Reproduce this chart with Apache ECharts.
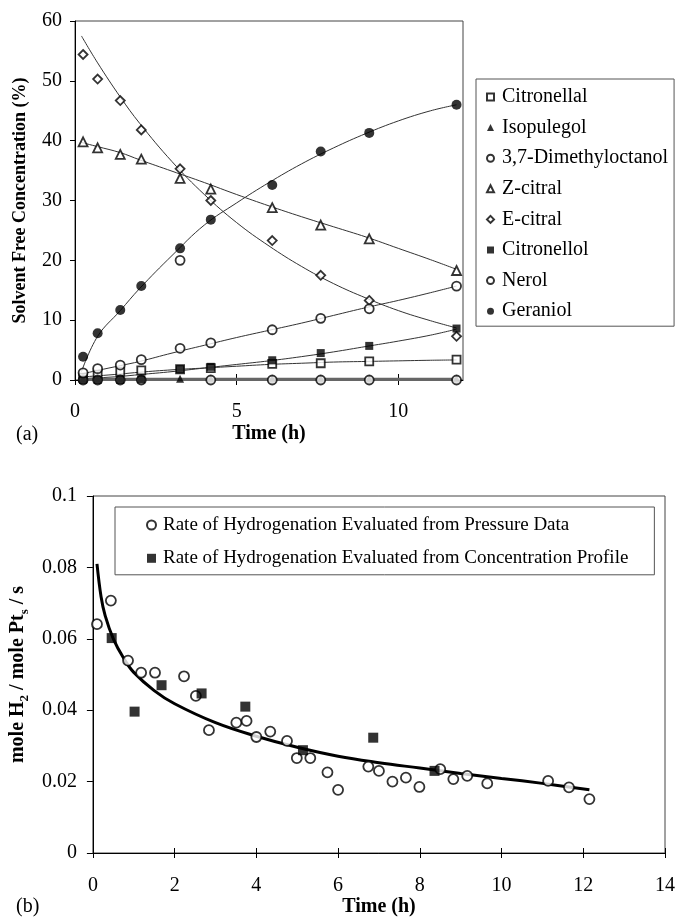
<!DOCTYPE html>
<html>
<head>
<meta charset="utf-8">
<script src="https://cdn.jsdelivr.net/npm/echarts@6/dist/echarts.min.js"></script>
<style>
  html, body { margin: 0; padding: 0; background: #fff; }
  #chart { width: 678px; height: 918px; }
</style>
</head>
<body>
<div id="chart"></div>
<script>
// ---- (a) concentration profiles ----
const sampleTime = [0.25, 0.7, 1.4, 2.05, 3.25, 4.2, 6.1, 7.6, 9.1, 11.8];
const citronellal = [0.4, 0.9, 1.4, 1.6, 1.8, 2.0, 2.7, 2.8, 3.1, 3.4];
const isopulegol = [0.2, 0.2, 0.2, 0.2, 0.2, 0.2, 0.2, 0.2, 0.2, 0.2];
const dimethyloctanol = [0, 0, 0, 0, 20, 0, 0, 0, 0, 0];
const zCitral = [39.8, 38.8, 37.7, 36.9, 33.7, 31.9, 28.8, 25.9, 23.6, 18.3];
const eCitral = [54.4, 50.3, 46.7, 41.8, 35.3, 30.0, 23.3, 17.5, 13.3, 7.3];
const citronellol = [0, 0, 0, 0.1, 1.8, 2.2, 3.3, 4.5, 5.7, 8.6];
const nerol = [1.2, 1.9, 2.5, 3.4, 5.3, 6.2, 8.4, 10.3, 11.9, 15.7];
const geraniol = [3.9, 7.8, 11.7, 15.7, 22.0, 26.8, 32.6, 38.2, 41.3, 46.0];

// trend curves drawn through each profile
const trendTime = [0.2, 0.7, 1.4, 2, 3, 4, 5, 6, 7, 8, 9, 10, 11, 11.8];
const citronellalTrend = [0.5, 0.7, 1.0, 1.3, 1.7, 2.0, 2.3, 2.6, 2.8, 3.0, 3.1, 3.2, 3.3, 3.35];
const zCitralTrend = [39.7, 39.0, 38.0, 36.8, 34.9, 33.0, 31.0, 29.1, 27.3, 25.6, 23.9, 22.0, 20.1, 18.5];
const eCitralTrend = [57.5, 53.0, 47.3, 42.9, 36.5, 31.0, 26.3, 22.4, 19.0, 16.1, 13.7, 11.6, 9.9, 8.7];
const citronellolTrend = [0.2, 0.35, 0.6, 0.9, 1.4, 2.0, 2.6, 3.2, 3.9, 4.7, 5.6, 6.5, 7.5, 8.5];
const nerolTrend = [1.0, 1.6, 2.4, 3.1, 4.5, 5.8, 7.1, 8.3, 9.5, 10.8, 12.1, 13.3, 14.6, 15.7];
const geraniolTrend = [1.4, 7.3, 11.6, 15.3, 20.8, 25.9, 29.6, 33.0, 36.1, 38.8, 41.2, 43.3, 45.0, 46.0];
const baseTime = [0.2, 11.8];
const isopulegolTrend = [0.2, 0.2];
const dimethyloctanolTrend = [0, 0];

const topXTicks = [0, 5, 10];

// ---- (b) hydrogenation rate ----
const pressureTime = [0.1, 0.44, 0.86, 1.18, 1.52, 2.23, 2.52, 2.84, 3.51, 3.76, 4.0, 4.34, 4.75, 4.99, 5.32, 5.74, 6.0, 6.74, 7.0, 7.33, 7.66, 7.99, 8.5, 8.82, 9.16, 9.65, 11.14, 11.65, 12.15];
const pressureRate = [0.0641, 0.0707, 0.0539, 0.0505, 0.0505, 0.0495, 0.0440, 0.0344, 0.0365, 0.0370, 0.0325, 0.0340, 0.0314, 0.0266, 0.0266, 0.0226, 0.0177, 0.0242, 0.0230, 0.0200, 0.0211, 0.0185, 0.0235, 0.0207, 0.0216, 0.0195, 0.0202, 0.0184, 0.0151];
const profileTime = [0.46, 1.02, 1.68, 2.66, 3.73, 5.14, 6.86, 8.36];
const profileRate = [0.0602, 0.0396, 0.0470, 0.0447, 0.0410, 0.0288, 0.0323, 0.0230];
const rateFitTime = [0.1, 0.2, 0.3, 0.5, 0.75, 1, 1.5, 2, 3, 4, 5, 6, 7, 8, 9, 10, 11, 12.15];
const rateFit = [0.0810, 0.0718, 0.0665, 0.0600, 0.0546, 0.0506, 0.0455, 0.0418, 0.0365, 0.0327, 0.0296, 0.0271, 0.0253, 0.0238, 0.0223, 0.0209, 0.0195, 0.0177];

const FONT = 'Liberation Serif';
const pairs = (xs, ys) => xs.map((x, i) => [x, ys[i]]);

const openStyle = { color: '#fff', borderColor: '#000', borderWidth: 1.8 };
const solidStyle = { color: '#000', borderColor: '#000', borderWidth: 0 };

function markers(name, xs, ys, symbol, size, style, xi, yi) {
  return {
    name, type: 'scatter', xAxisIndex: xi, yAxisIndex: yi,
    symbol, symbolSize: size, itemStyle: style, z: 5,
    data: pairs(xs, ys)
  };
}
function trend(name, xs, ys, width, color, xi, yi) {
  return {
    name, type: 'line', xAxisIndex: xi, yAxisIndex: yi,
    smooth: 0.4, showSymbol: false, symbol: 'none',
    lineStyle: { color, width }, z: 3,
    data: pairs(xs, ys)
  };
}

const axisText = { fontFamily: FONT, fontSize: 20, color: '#000' };
const nameText = { fontFamily: FONT, fontSize: 20, fontWeight: 'bold', color: '#000' };
const lineBlack = { lineStyle: { color: '#000', width: 1 } };

const option = {
  animation: false,
  backgroundColor: '#fff',
  grid: [
    { left: 75, top: 21, width: 388, height: 359, show: true, borderColor: '#444', borderWidth: 1 },
    { left: 86, top: 496, width: 583, height: 358, show: true, borderColor: '#444', borderWidth: 1 }
  ],
  xAxis: [
    {
      gridIndex: 0, type: 'value', min: 0, max: 12, interval: 5,
      name: 'Time (h)', nameLocation: 'middle', nameGap: 44, nameTextStyle: nameText,
      axisLine: lineBlack, splitLine: { show: false },
      axisTick: { show: true, length: 5, lineStyle: { color: '#000' }, customValues: topXTicks },
      axisLabel: Object.assign({ margin: 22, customValues: topXTicks }, axisText)
    },
    {
      gridIndex: 1, type: 'value', min: 0, max: 14, interval: 2,
      name: 'Time (h)', nameLocation: 'middle', nameGap: 44, nameTextStyle: nameText,
      axisLine: lineBlack, splitLine: { show: false },
      axisTick: { show: true, length: 5, lineStyle: { color: '#000' } },
      axisLabel: Object.assign({ margin: 23 }, axisText)
    },
    // inner halves of the crossing x ticks
    {
      gridIndex: 0, type: 'value', min: 0, max: 12, interval: 5, position: 'bottom',
      axisLine: { show: false }, splitLine: { show: false }, axisLabel: { show: false },
      axisTick: { show: true, inside: true, length: 6, lineStyle: { color: '#000' }, customValues: [5, 10] }
    },
    {
      gridIndex: 1, type: 'value', min: 0, max: 14, interval: 2, position: 'bottom',
      axisLine: { show: false }, splitLine: { show: false }, axisLabel: { show: false },
      axisTick: { show: true, inside: true, length: 5, lineStyle: { color: '#000' } }
    }
  ],
  yAxis: [
    {
      gridIndex: 0, type: 'value', min: 0, max: 60, interval: 10,
      name: 'Solvent Free Concentration (%)', nameLocation: 'middle', nameGap: 46,
      nameTextStyle: Object.assign({}, nameText, { fontSize: 18 }),
      axisLine: { show: true, lineStyle: { color: '#000', width: 1 } }, splitLine: { show: false },
      axisTick: { show: true, length: 5, lineStyle: { color: '#000' } },
      axisLabel: Object.assign({ margin: 13 }, axisText)
    },
    {
      gridIndex: 1, type: 'value', min: 0, max: 0.1, interval: 0.02,
      name: '{b|mole H}{s|2}{b| / mole Pt}{s|s}{b| / s}', nameLocation: 'middle', nameGap: 54,
      nameTextStyle: {
        rich: {
          b: { fontFamily: FONT, fontSize: 20, fontWeight: 'bold', color: '#000', lineHeight: 26, verticalAlign: 'middle' },
          s: { fontFamily: FONT, fontSize: 13, fontWeight: 'bold', color: '#000', lineHeight: 26, verticalAlign: 'bottom', padding: [10, 0, 0, 0] }
        }
      },
      axisLine: { show: true, lineStyle: { color: '#000', width: 1 } }, splitLine: { show: false },
      axisTick: { show: true, length: 6, lineStyle: { color: '#000' } },
      axisLabel: Object.assign({ margin: 16 }, axisText)
    }
  ],
  legend: [
    {
      orient: 'vertical', left: 476, top: 79, padding: [8, 6, 5, 10],
      itemGap: 10.6, itemWidth: 7, itemHeight: 7, selectedMode: false,
      borderColor: '#555', borderWidth: 1, backgroundColor: '#fff',
      textStyle: { fontFamily: FONT, fontSize: 20, lineHeight: 20, color: '#000', padding: [0, 0, 0, 3] },
      data: ['Citronellal', 'Isopulegol', '3,7-Dimethyloctanol', 'Z-citral', 'E-citral', 'Citronellol', 'Nerol', 'Geraniol']
    },
    {
      orient: 'vertical', left: 115, top: 507, padding: [8.5, 26, 7, 31],
      itemGap: 14.3, itemWidth: 9, itemHeight: 9, selectedMode: false,
      borderColor: '#555', borderWidth: 1, backgroundColor: '#fff',
      textStyle: { fontFamily: FONT, fontSize: 19, lineHeight: 19, color: '#000', padding: [0, 0, 0, 2] },
      data: ['Rate of Hydrogenation Evaluated from Pressure Data', 'Rate of Hydrogenation Evaluated from Concentration Profile']
    }
  ],
  graphic: [
    { type: 'text', left: 16, top: 425, style: { text: '(a)', font: '20px "Liberation Serif"', fill: '#000' } },
    { type: 'text', left: 16, top: 897, style: { text: '(b)', font: '20px "Liberation Serif"', fill: '#000' } }
  ],
  series: [
    // trend curves (a)
    trend('citronellal-trend', trendTime, citronellalTrend, 1, '#333', 0, 0),
    trend('zcitral-trend', trendTime, zCitralTrend, 1, '#333', 0, 0),
    trend('ecitral-trend', trendTime, eCitralTrend, 1, '#333', 0, 0),
    trend('citronellol-trend', trendTime, citronellolTrend, 1, '#333', 0, 0),
    trend('nerol-trend', trendTime, nerolTrend, 1, '#333', 0, 0),
    trend('geraniol-trend', trendTime, geraniolTrend, 1, '#333', 0, 0),
    trend('isopulegol-trend', baseTime, isopulegolTrend, 2, '#666', 0, 0),
    trend('dimethyloctanol-trend', baseTime, dimethyloctanolTrend, 2, '#666', 0, 0),
    // measured points (a)
    markers('Citronellal', sampleTime, citronellal, 'rect', 8, openStyle, 0, 0),
    markers('Isopulegol', sampleTime, isopulegol, 'triangle', 8, solidStyle, 0, 0),
    markers('3,7-Dimethyloctanol', sampleTime, dimethyloctanol, 'circle', 9, openStyle, 0, 0),
    markers('Z-citral', sampleTime, zCitral, 'triangle', 9, openStyle, 0, 0),
    markers('E-citral', sampleTime, eCitral, 'diamond', 9, openStyle, 0, 0),
    markers('Citronellol', sampleTime, citronellol, 'rect', 8, solidStyle, 0, 0),
    markers('Nerol', sampleTime, nerol, 'circle', 9, openStyle, 0, 0),
    markers('Geraniol', sampleTime, geraniol, 'circle', 10, solidStyle, 0, 0),
    // (b)
    trend('rate-fit', rateFitTime, rateFit, 3, '#000', 1, 1),
    markers('Rate of Hydrogenation Evaluated from Pressure Data', pressureTime, pressureRate, 'circle', 10, { color: '#fff', borderColor: '#000', borderWidth: 1.8 }, 1, 1),
    markers('Rate of Hydrogenation Evaluated from Concentration Profile', profileTime, profileRate, 'rect', 10, solidStyle, 1, 1)
  ]
};

const chart = echarts.init(document.getElementById('chart'), null, { renderer: 'canvas' });
chart.setOption(option);
</script>
</body>
</html>
